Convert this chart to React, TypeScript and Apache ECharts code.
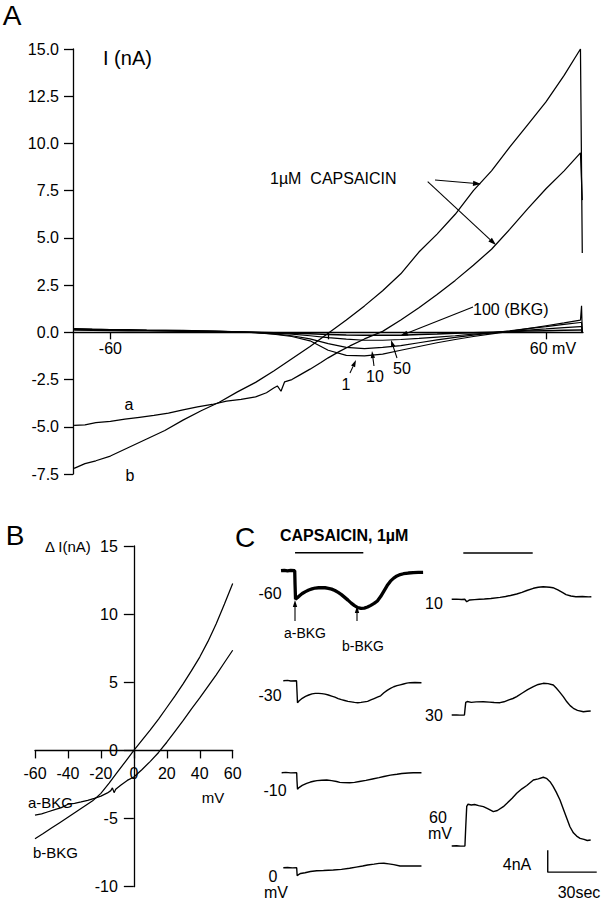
import React, { useEffect, useRef } from "react";
import * as echarts from "echarts";

const FONT = "'Liberation Sans', Arial, Helvetica, sans-serif";

// ---------- Panel A : I-V curves (mV, nA) ----------
const aMv = [-70,-67,-64,-60,-56,-52,-48,-44,-40,-36,-32,-28,-24,-20,-17,-15,-14,-13,-12,-10,-8,-5,-2,0,3,6,10,15,20,25,30,35,40,45,50,55,60,65,69.5,70];
const aNa = [-4.92,-4.9,-4.78,-4.72,-4.6,-4.5,-4.4,-4.28,-4.1,-3.95,-3.82,-3.64,-3.55,-3.42,-3.2,-2.95,-2.84,-3.12,-2.62,-2.5,-2.28,-1.95,-1.6,-1.35,-1.02,-0.72,-0.35,0.05,0.65,1.3,2.0,2.75,3.55,4.4,5.45,6.55,7.6,8.55,9.5,7.0];
const bMv = [-70,-67,-64,-60,-55,-50,-45,-40,-35,-30,-25,-20,-15,-10,-5,0,5,10,15,20,25,30,35,40,45,50,55,60,65,69.5,70];
const bNa = [-7.2,-6.95,-6.8,-6.55,-6.1,-5.65,-5.2,-4.65,-4.15,-3.7,-3.15,-2.65,-2.05,-1.4,-0.75,-0.05,0.65,1.4,2.2,3.1,4.25,5.2,6.25,7.5,8.55,9.8,11.0,12.2,13.6,15.0,4.2];
const bkgMv = [-70,-65,-60,-55,-50,-45,-40,-35,-30,-25,-20,-15,-10,-5,0,5,10,15,20,25,30,35,40,45,50,55,60,65,69.5,69.8,70];
const bkg1 = [0.2,0.17,0.15,0.14,0.12,0.11,0.1,0.08,0.06,0.03,-0.02,-0.1,-0.22,-0.45,-0.95,-1.22,-1.25,-1.15,-0.95,-0.75,-0.55,-0.38,-0.22,-0.08,0.05,0.2,0.35,0.5,0.65,1.4,0];
const bkg10 = [0.18,0.16,0.14,0.12,0.11,0.1,0.09,0.07,0.05,0.02,-0.02,-0.08,-0.18,-0.35,-0.6,-0.8,-0.86,-0.8,-0.7,-0.55,-0.4,-0.27,-0.15,-0.03,0.08,0.2,0.3,0.42,0.52,0.52,0];
const bkg50 = [0.15,0.14,0.13,0.12,0.1,0.09,0.08,0.06,0.04,0.02,0.0,-0.04,-0.1,-0.18,-0.28,-0.36,-0.42,-0.42,-0.38,-0.32,-0.25,-0.18,-0.1,-0.03,0.04,0.12,0.18,0.25,0.3,0.3,0];
const bkg100 = [0.12,0.11,0.1,0.09,0.08,0.07,0.06,0.05,0.03,0.02,0.0,-0.02,-0.05,-0.08,-0.11,-0.14,-0.16,-0.16,-0.15,-0.12,-0.09,-0.05,-0.02,0.01,0.04,0.07,0.09,0.11,0.12,0.12,0];
const ticksA = [-60, 0, 60];
const labelsA = [-60, 60];

// ---------- Panel B : difference currents ----------
const aBkgMv = [-60,-56,-52,-48,-44,-40,-36,-32,-28,-24,-20,-16,-14,-13,-12,-11,-8,-4,0,5,10,15,20,25,30,35,40,45,50,55,60];
const aBkg = [-4.75,-4.65,-4.5,-4.35,-4.2,-3.95,-3.88,-3.78,-3.66,-3.52,-3.35,-3.12,-2.95,-2.75,-3.1,-2.85,-2.55,-2.2,-1.95,-1.4,-0.8,-0.15,0.6,1.4,2.2,3.05,3.85,4.7,5.55,6.45,7.35];
const bBkgMv = [-60,-55,-50,-45,-40,-35,-30,-25,-20,-15,-10,-5,0,5,10,15,20,25,30,35,40,45,50,55,60];
const bBkg = [-6.48,-6.1,-5.7,-5.3,-4.9,-4.5,-4.1,-3.7,-3.15,-2.4,-1.6,-0.8,0,0.75,1.5,2.3,3.15,4.0,4.9,5.85,6.85,8.0,9.3,10.75,12.25];

// ---------- Panel C : current traces (s, nA rel. to holding) ----------
const trM60 = [[0,0],[2,0.05],[4,-0.05],[6,0.05],[8.4,0],[8.6,-2.5],[8.9,-5.2],[10,-4.9],[11.5,-4.5],[13,-4.15],[15,-3.8],[17,-3.5],[19,-3.3],[21,-3.15],[23,-3.1],[25,-3.08],[27,-3.1],[29,-3.2],[31,-3.35],[33,-3.6],[35,-3.95],[37,-4.35],[39,-4.85],[41,-5.35],[43,-5.9],[45,-6.35],[47,-6.7],[49,-6.85],[51,-6.8],[53,-6.6],[55,-6.3],[57,-5.95],[59,-5.5],[61,-4.7],[63,-3.7],[65,-2.7],[67,-1.9],[69,-1.35],[71,-0.95],[73,-0.7],[75,-0.55],[78,-0.42],[81,-0.35],[84,-0.32],[87,-0.3]];
const trM30 = [[1.4,0],[4,0.05],[6,-0.05],[9.5,0],[9.8,-2],[10.1,-4.0],[11,-3.7],[13,-3.2],[15,-2.85],[17,-2.6],[19,-2.4],[21,-2.3],[23,-2.3],[25,-2.35],[27,-2.45],[29,-2.6],[31,-2.8],[33,-3.0],[35,-3.25],[37,-3.45],[39,-3.6],[41,-3.75],[43,-3.85],[45,-3.95],[47,-4.0],[49,-3.95],[51,-3.85],[53,-3.75],[55,-3.5],[57,-3.25],[59,-3.0],[61,-2.75],[63,-2.2],[65,-1.75],[67,-1.4],[69,-1.1],[71,-0.9],[73,-0.75],[75,-0.6],[77,-0.45],[79,-0.36],[82,-0.33],[86,-0.36]];
const trM10 = [[0.4,0],[3,0.05],[6,-0.03],[9.6,0],[9.8,-1.5],[10.1,-3.0],[11,-2.7],[13,-2.3],[15.7,-1.93],[18,-1.7],[20,-1.55],[22,-1.45],[25,-1.38],[28,-1.33],[31,-1.45],[34,-1.6],[36,-1.75],[38,-1.8],[42,-1.82],[45,-1.75],[48,-1.6],[52,-1.4],[56,-1.15],[60,-0.9],[63,-0.7],[67,-0.45],[71,-0.28],[74,-0.15],[78,-0.05],[81,0],[86,0]];
const trZero = [[1.4,0],[4,0.03],[7,-0.03],[9.6,0],[9.9,-1.45],[10.5,-1.3],[12,-1.05],[14.7,-0.91],[18,-0.7],[21.9,-0.55],[26,-0.5],[32,-0.42],[37,-0.3],[42,-0.11],[46,0.1],[50,0.3],[53,0.49],[57,0.65],[60,0.78],[63,0.8],[66,0.7],[69,0.55],[72.9,0.31],[76,0.32],[80,0.3],[83,0.31],[86,0.31]];
const trP10 = [[0,0],[3,0.04],[6,-0.03],[8,0],[9.2,-0.44],[10,-0.3],[11,-0.12],[14,-0.05],[17,0],[20,0.05],[24,0.15],[29.6,0.36],[33,0.5],[36,0.7],[39.8,0.96],[43,1.25],[46,1.6],[50,2.0],[53,2.2],[56,2.29],[60,2.2],[62,2.11],[65,1.7],[68,1.2],[70,0.85],[73,0.6],[76,0.47],[80,0.5],[84,0.45],[85.5,0.47]];
const trP30 = [[0,0],[3,0.03],[5,-0.03],[7.8,0],[8.2,1.2],[8.6,2.3],[9.5,2.45],[12,2.3],[15,2.38],[19.4,2.42],[23,2.35],[26,2.28],[29.6,2.24],[32,2.4],[35,2.75],[37.5,3.0],[39.8,3.33],[43,3.95],[46.5,4.6],[50,5.15],[53,5.55],[56.1,5.76],[59,5.7],[62.2,5.45],[64,4.9],[66,4.2],[68.3,3.33],[70.5,2.4],[72.5,1.7],[74.5,1.22],[77,0.85],[80.6,0.6],[83,0.68],[85.1,0.73]];
const trP60 = [[0,0],[3,0.04],[5.5,-0.03],[8.1,0],[8.6,3.5],[9.2,7.2],[10,7.6],[12,7.45],[14,7.55],[16.5,7.35],[19.4,7.15],[22,6.8],[25.5,6.24],[28,6.45],[31.6,7.15],[34,7.8],[37,8.7],[39.8,9.58],[43,10.4],[46,11.0],[50,12.0],[53,12.2],[56.1,12.5],[58,12.3],[60.2,11.7],[62,10.9],[64,9.8],[66.3,8.36],[68.5,6.6],[70.5,5.0],[72.4,3.5],[74.5,2.4],[76.5,1.8],[78.6,1.4],[81,1.2],[83,1.0],[85.1,1.09]];
const capsBarLeft = [[8.6, 3.27], [50.4, 3.27]];
const capsBarRight = [[7.1, 8.42], [49.6, 8.42]];
const scaleBar = [[58.8, -0.75], [58.8, -4.75], [88.8, -4.75]];

const zip = (xs: number[], ys: number[]) => xs.map((x, i) => [x, ys[i]]);

function txt(text: string, x: number, y: number, size: number, align = "left", weight = "normal") {
  return {
    type: "text", x, y, silent: true,
    style: {
      text, font: `${weight} ${size}px ${FONT}`, fill: "#000",
      align, verticalAlign: "middle", textAlign: align, textVerticalAlign: "middle",
    },
  };
}

function arrow(x1: number, y1: number, x2: number, y2: number, head = 8, w = 2.6) {
  const dx = x2 - x1, dy = y2 - y1;
  const L = Math.hypot(dx, dy);
  const ux = dx / L, uy = dy / L;
  const bx = x2 - ux * head, by = y2 - uy * head;
  const px = -uy * w, py = ux * w;
  return [
    { type: "line", silent: true, shape: { x1, y1, x2: bx, y2: by }, style: { stroke: "#000", lineWidth: 1.1 } },
    { type: "polygon", silent: true, shape: { points: [[x2, y2], [bx + px, by + py], [bx - px, by - py]] }, style: { fill: "#000" } },
  ];
}

const axisStyle = { color: "#000", width: 1.3 };

export default function App() {
  const ref = useRef<HTMLDivElement>(null);

  useEffect(() => {
    if (!ref.current) return;
    const chart = echarts.init(ref.current, undefined, { renderer: "svg" });

    // grid geometry
    const gA = { left: 73, top: 49, width: 510, height: 425 };
    const gB = { left: 35, top: 546, width: 197.7, height: 340.7 };
    const xA = { min: -70.3, max: 70.2 }, yA = { min: -7.5, max: 15 };
    const xB = { min: -60, max: 60 }, yB = { min: -10, max: 15 };
    // offsets that bring an axis onto the other axis' zero
    const offAx = -gA.height * (0 - yA.min) / (yA.max - yA.min);
    const offBx = -gB.height * (0 - yB.min) / (yB.max - yB.min);
    const offBy = -gB.width * (0 - xB.min) / (xB.max - xB.min);

    const traces = [
      { data: trM60, base: 570.7, col: 0, w: 3.3 },
      { data: trM30, base: 680.7, col: 0, w: 1.4 },
      { data: trM10, base: 772.7, col: 0, w: 1.4 },
      { data: trZero, base: 867.7, col: 0, w: 1.4 },
      { data: trP10, base: 599.3, col: 1, w: 1.4 },
      { data: trP30, base: 715, col: 1, w: 1.4 },
      { data: trP60, base: 846, col: 1, w: 1.4 },
    ];

    const gridBase = { containLabel: false, outerBoundsMode: "none" };
    const grids: any[] = [{ ...gridBase, ...gA }, { ...gridBase, ...gB }];
    const xAxes: any[] = [
      {
        type: "value", gridIndex: 0, ...xA, position: "bottom", offset: offAx,
        axisLine: { onZero: false, lineStyle: axisStyle },
        axisTick: { customValues: ticksA, length: 7, lineStyle: axisStyle },
        axisLabel: {
          customValues: labelsA, margin: 8, color: "#000", fontSize: 16, fontFamily: FONT,
          formatter: (v: number) => (v === 60 ? "{r|60 mV}" : String(v)),
          rich: { r: { fontSize: 16, fontFamily: FONT, color: "#000", padding: [0, 0, 0, 14] } },
        },
        splitLine: { show: false },
      },
      {
        type: "value", gridIndex: 1, ...xB, interval: 20, position: "bottom", offset: offBx,
        axisLine: { onZero: false, lineStyle: axisStyle },
        axisTick: { length: 8, lineStyle: axisStyle },
        axisLabel: { margin: 15, color: "#000", fontSize: 16, fontFamily: FONT },
        splitLine: { show: false },
      },
    ];
    const yAxes: any[] = [
      {
        type: "value", gridIndex: 0, ...yA, interval: 2.5, position: "left",
        axisLine: { show: true, onZero: false, lineStyle: axisStyle },
        axisTick: { show: true, length: 9, lineStyle: axisStyle },
        axisLabel: { margin: 14, color: "#000", fontSize: 16, fontFamily: FONT, formatter: (v: number) => v.toFixed(1) },
        splitLine: { show: false },
      },
      {
        type: "value", gridIndex: 1, ...yB, interval: 5, position: "left", offset: offBy,
        axisLine: { show: true, onZero: false, lineStyle: axisStyle },
        axisTick: { show: true, length: 10, lineStyle: axisStyle },
        axisLabel: { margin: 16, color: "#000", fontSize: 16, fontFamily: FONT },
        splitLine: { show: false },
      },
    ];

    const line = (data: any[], xi: number, w = 1.25, z = 2) => ({
      type: "line", data, xAxisIndex: xi, yAxisIndex: xi, symbol: "none", showSymbol: false,
      clip: false, silent: true, z,
      lineStyle: { color: "#000", width: w }, emphasis: { disabled: true },
    });

    const series: any[] = [
      line(zip(aMv, aNa), 0),
      line(zip(bMv, bNa), 0),
      line(zip(bkgMv, bkg1), 0, 1.2),
      line(zip(bkgMv, bkg10), 0, 1.2),
      line(zip(bkgMv, bkg50), 0, 1.2),
      line(zip(bkgMv, bkg100), 0, 1.5),
      line(zip(aBkgMv, aBkg), 1),
      line(zip(bBkgMv, bBkg), 1),
    ];

    traces.forEach((t, i) => {
      const gi = 2 + i;
      grids.push({ ...gridBase, left: t.col === 0 ? 281 : 451.7, width: 147, top: t.base - 77, height: 132 });
      xAxes.push({ type: "value", gridIndex: gi, min: 0, max: 90, show: false });
      yAxes.push({ type: "value", gridIndex: gi, min: -10, max: 14, show: false });
      series.push(line(t.data, gi, t.w));
    });
    // capsaicin application bars and scale bar, drawn in trace coordinates
    series.push(line(capsBarLeft, 2, 1.4));
    series.push(line(capsBarRight, 6, 1.4));
    series.push(line(scaleBar, 8, 1.4));

    const graphic: any[] = [
      txt("A", 12, 15, 28, "center"),
      txt("I (nA)", 103, 58, 20),
      txt("1µM  CAPSAICIN", 270, 178, 16),
      txt("100 (BKG)", 473, 309, 16),
      txt("1", 346, 384, 16, "center"),
      txt("10", 375, 376, 16, "center"),
      txt("50", 402, 368, 16, "center"),
      txt("a", 129, 404, 16, "center"),
      txt("b", 130, 475, 16, "center"),
      ...arrow(435, 180, 481, 184),
      ...arrow(427.7, 181.7, 496, 245),
      ...arrow(473, 307, 400, 336),
      ...arrow(350, 373, 356, 360, 7, 2.2),
      ...arrow(374, 366, 372, 351, 7, 2.2),
      ...arrow(397, 358, 391, 340, 7, 2.2),

      txt("B", 15, 535, 28, "center"),
      txt("Δ I(nA)", 45, 546, 15),
      txt("mV", 213, 797, 15, "center"),
      txt("a-BKG", 28, 802, 15),
      txt("b-BKG", 33, 852, 15),

      txt("C", 245, 537, 28, "center"),
      txt("CAPSAICIN, 1µM", 280, 535, 16, "left", "bold"),
      txt("-60", 270, 593, 16, "center"),
      txt("-30", 270, 695, 16, "center"),
      txt("-10", 275, 790, 16, "center"),
      txt("0", 273, 876, 16, "center"),
      txt("mV", 276, 892, 16, "center"),
      txt("a-BKG", 305, 633, 14, "center"),
      txt("b-BKG", 363, 646, 14, "center"),
      ...arrow(295, 621, 295, 600, 7, 2.2),
      ...arrow(357, 621, 357, 606, 7, 2.2),
      txt("10", 434, 603, 16, "center"),
      txt("30", 434, 715, 16, "center"),
      txt("60", 438, 817, 16, "center"),
      txt("mV", 440, 833, 16, "center"),
      txt("4nA", 517, 864, 16, "center"),
      txt("30sec", 579, 892, 16, "center"),
    ];

    chart.setOption({
      animation: false,
      backgroundColor: "#fff",
      textStyle: { fontFamily: FONT },
      grid: grids,
      xAxis: xAxes,
      yAxis: yAxes,
      series,
      graphic,
    });

    return () => chart.dispose();
  }, []);

  return (
    <div
      ref={ref}
      style={{ position: "absolute", left: 0, top: 0, width: 602, height: 899, background: "#fff" }}
    />
  );
}
